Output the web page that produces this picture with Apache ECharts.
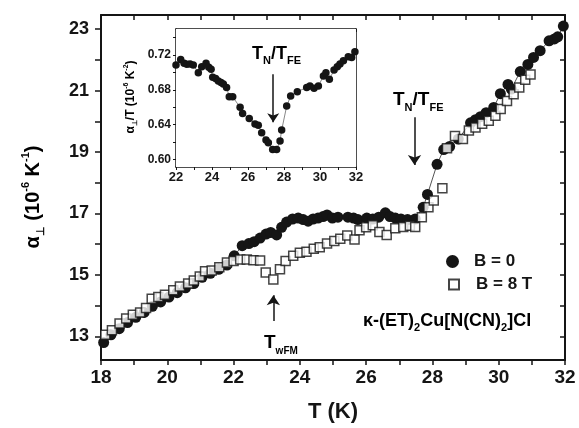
<!DOCTYPE html>
<html>
<head>
<meta charset="utf-8">
<script src="https://cdn.jsdelivr.net/npm/echarts@6/dist/echarts.min.js"></script>
<style>
  html, body {margin: 0; padding: 0; background: #fff;}
  #main {width: 579px; height: 428px;}
</style>
</head>
<body>
<div id="main"></div>
<script>
// main panel, B = 0 (filled circles)
const T_B0 = [18.08, 18.3, 18.55, 18.8, 19.05, 19.3, 19.55, 19.8, 20.05, 20.3, 20.55, 20.8, 21.05, 21.3, 21.55, 21.8,
  22.02, 22.26, 22.46, 22.62, 22.8, 22.98, 23.12, 23.3, 23.45, 23.6, 23.78, 23.95, 24.1, 24.25, 24.4, 24.55, 24.7, 24.82,
  24.98, 25.15, 25.45, 25.62, 25.75, 26.02, 26.2, 26.38, 26.58, 26.72, 26.88, 27.05, 27.25, 27.48, 27.72, 27.85,
  28.14, 28.34, 28.52, 28.78, 29.15, 29.3, 29.45, 29.62, 29.85, 30.05, 30.28, 30.38, 30.65, 30.88, 31.05, 31.25,
  31.52, 31.68, 31.78, 31.95];
const A_B0 = [12.8, 13.05, 13.25, 13.45, 13.62, 13.78, 13.98, 14.12, 14.28, 14.42, 14.58, 14.72, 14.92, 15.05, 15.18, 15.32,
  15.62, 15.95, 16.02, 16.08, 16.2, 16.33, 16.38, 16.3, 16.55, 16.72, 16.82, 16.85, 16.8, 16.75, 16.82, 16.85, 16.9, 16.95,
  16.85, 16.88, 16.88, 16.85, 16.8, 16.85, 16.82, 16.88, 17.02, 16.9, 16.85, 16.82, 16.8, 16.82, 17.2, 17.62,
  18.6, 19.08, 19.18, 19.42, 19.95, 20.05, 20.15, 20.28, 20.45, 20.9, 21.2, 21.05, 21.62, 21.85, 22.08, 22.3,
  22.62, 22.68, 22.75, 23.1];

// main panel, B = 8 T (open squares)
const T_B8 = [18.13, 18.33, 18.56, 18.76, 18.96, 19.18, 19.36, 19.53, 19.73, 19.93, 20.18, 20.38, 20.63, 20.8, 20.98, 21.14,
  21.34, 21.57, 21.8, 22.0, 22.2, 22.4, 22.6, 22.8, 22.97, 23.2, 23.4, 23.57, 23.8, 24.0, 24.2, 24.42, 24.6, 24.82,
  25.04, 25.22, 25.43, 25.65, 25.8, 26.0, 26.2, 26.4, 26.62, 26.88, 27.12, 27.32, 27.48, 27.68, 27.88, 28.04, 28.3,
  28.44, 28.68, 28.92, 29.1, 29.3, 29.5, 29.7, 29.9, 30.06, 30.25, 30.45, 30.62, 30.8, 30.96];
const A_B8 = [13.05, 13.2, 13.42, 13.58, 13.7, 13.78, 13.92, 14.22, 14.28, 14.35, 14.5, 14.62, 14.72, 14.82, 14.95, 15.12,
  15.14, 15.25, 15.4, 15.45, 15.5, 15.5, 15.48, 15.47, 15.08, 14.85, 15.18, 15.45, 15.62, 15.72, 15.75, 15.85, 15.9, 16.02,
  16.1, 16.18, 16.28, 16.15, 16.45, 16.55, 16.62, 16.4, 16.3, 16.52, 16.56, 16.6, 16.56, 16.88, 17.2, 17.42, 17.82,
  19.12, 19.52, 19.42, 19.7, 19.8, 19.92, 20.02, 20.18, 20.4, 20.66, 20.88, 21.1, 21.35, 21.52];

// inset: alpha/T for B = 0
const T_IN = [22.0, 22.26, 22.45, 22.6, 22.78, 22.96, 23.24, 23.43, 23.67, 23.82, 23.95, 24.04, 24.2, 24.35, 24.5, 24.63,
  24.81, 24.96, 25.15, 25.56, 25.7, 26.07, 26.39, 26.57, 26.76, 27.0, 27.13, 27.37, 27.59, 27.78, 27.87, 28.15, 28.37,
  28.74, 29.26, 29.44, 29.67, 29.91, 30.19, 30.33, 30.52, 30.78, 30.96, 31.11, 31.3, 31.57, 31.76, 31.94];
const R_IN = [0.7085, 0.715, 0.7105, 0.7095, 0.7096, 0.7085, 0.6996, 0.7065, 0.7104, 0.706, 0.7035, 0.6943, 0.693, 0.690,
  0.6885, 0.6865, 0.6827, 0.6719, 0.6719, 0.6597, 0.6527, 0.647, 0.6404, 0.6392, 0.6304, 0.622, 0.6189, 0.6112, 0.6112,
  0.6211, 0.6335, 0.6612, 0.6727, 0.6777, 0.6827, 0.6842, 0.6816, 0.6842, 0.6958, 0.6996, 0.692, 0.7027, 0.7065, 0.7096,
  0.7134, 0.718, 0.7173, 0.7238];

// ticks
const MAIN_Y_TICKS = [13, 14, 15, 16, 17, 18, 19, 20, 21, 22, 23];
const MAIN_Y_LABELS = [13, 15, 17, 19, 21, 23];
const INSET_Y_TICKS = [0.60, 0.62, 0.64, 0.66, 0.68, 0.70, 0.72, 0.74];
const INSET_Y_LABELS = [0.60, 0.64, 0.68, 0.72];

// arrow annotations (data coords)
const ARROW_TN = [[27.46, 20.13], [27.46, 18.58]];
const ARROW_TWFM = [[23.2, 13.5], [23.2, 14.34]];
const ARROW_TN_INSET = [[27.4, 0.698], [27.4, 0.6427]];

const FONT = '"Liberation Sans", Arial, sans-serif';
const INK = '#151515';

function zip(xs, ys) { return xs.map((x, i) => [x, ys[i]]); }
function evenOnly(v) { return Math.round(v) % 2 === 0 ? String(Math.round(v)) : ''; }

const mychart = echarts.init(document.getElementById('main'), null, {renderer: 'canvas'});

const lineAx = w => ({lineStyle: {color: INK, width: w}});
const sub = (fs, lh) => ({fontSize: fs, fontWeight: 'bold', fontFamily: FONT, color: INK, lineHeight: lh, verticalAlign: 'bottom'});
const sup = (fs, lh) => ({fontSize: fs, fontWeight: 'bold', fontFamily: FONT, color: INK, lineHeight: lh, verticalAlign: 'top'});
const big = (fs, lh) => ({fontSize: fs, fontWeight: 'bold', fontFamily: FONT, color: INK, lineHeight: lh});

const option = {
  animation: false,
  backgroundColor: '#fff',
  textStyle: {fontFamily: FONT, color: INK},
  grid: [
    {left: 101, right: 14, top: 15, bottom: 66},
    {left: 176, right: 223, top: 29, bottom: 261, show: true, backgroundColor: '#fff', borderWidth: 0, z: 5}
  ],
  xAxis: [
    { // main bottom
      type: 'value', gridIndex: 0, position: 'bottom', min: 18, max: 32, interval: 1,
      axisLine: lineAx(2), splitLine: {show: false},
      axisTick: {inside: false, length: 5, lineStyle: {color: INK, width: 1.5}},
      axisLabel: {formatter: evenOnly, fontSize: 19, fontWeight: 'bold', color: INK, margin: 8},
      name: 'T (K)', nameLocation: 'middle', nameGap: 41,
      nameTextStyle: {fontSize: 22, fontWeight: 'bold', color: INK}
    },
    { // main top mirror
      type: 'value', gridIndex: 0, position: 'top', min: 18, max: 32, interval: 1,
      axisLine: lineAx(2), splitLine: {show: false},
      axisTick: {inside: true, length: 5, lineStyle: {color: INK, width: 1.5}},
      axisLabel: {show: false}
    },
    { // inset bottom
      type: 'value', gridIndex: 1, position: 'bottom', min: 22, max: 32, interval: 1,
      axisLine: lineAx(1.5), splitLine: {show: false},
      axisTick: {inside: false, length: 3, lineStyle: {color: INK, width: 1}},
      axisLabel: {formatter: evenOnly, fontSize: 13, fontWeight: 'bold', color: INK, margin: 4}
    },
    { // inset top mirror
      type: 'value', gridIndex: 1, position: 'top', min: 22, max: 32, interval: 1,
      axisLine: lineAx(1.5), splitLine: {show: false},
      axisTick: {inside: true, length: 3, lineStyle: {color: INK, width: 1}},
      axisLabel: {show: false}
    }
  ],
  yAxis: [
    {
      type: 'value', gridIndex: 0, position: 'left', min: 12.23, max: 23.46,
      axisLine: lineAx(2), splitLine: {show: false},
      axisTick: {inside: false, length: 6, customValues: MAIN_Y_TICKS, lineStyle: {color: INK, width: 1.5}},
      axisLabel: {customValues: MAIN_Y_LABELS, fontSize: 18, fontWeight: 'bold', color: INK, margin: 12}
    },
    {
      type: 'value', gridIndex: 0, position: 'right', min: 12.23, max: 23.46,
      axisLine: lineAx(2), splitLine: {show: false},
      axisTick: {inside: true, length: 5, customValues: MAIN_Y_TICKS, lineStyle: {color: INK, width: 1.5}},
      axisLabel: {show: false}
    },
    {
      type: 'value', gridIndex: 1, position: 'left', min: 0.591, max: 0.75,
      axisLine: lineAx(1.5), splitLine: {show: false},
      axisTick: {inside: false, length: 3, customValues: INSET_Y_TICKS, lineStyle: {color: INK, width: 1}},
      axisLabel: {customValues: INSET_Y_LABELS, formatter: v => v.toFixed(2), fontSize: 12, fontWeight: 'bold', color: INK, margin: 5}
    },
    {
      type: 'value', gridIndex: 1, position: 'right', min: 0.591, max: 0.75,
      axisLine: lineAx(1.5), splitLine: {show: false},
      axisTick: {inside: true, length: 3, customValues: INSET_Y_TICKS, lineStyle: {color: INK, width: 1}},
      axisLabel: {show: false}
    }
  ],
  legend: [
    {
      data: [{name: 'B = 0', icon: 'circle'}], selectedMode: false,
      left: 441, top: 248, itemWidth: 13, itemHeight: 13,
      textStyle: {fontSize: 17, fontWeight: 'bold', color: INK, padding: [0, 0, 0, 10]}
    },
    {
      data: [{name: 'B = 8 T', icon: 'rect'}], selectedMode: false,
      left: 443, top: 271, itemWidth: 10, itemHeight: 10,
      textStyle: {fontSize: 17, fontWeight: 'bold', color: INK, padding: [0, 0, 0, 12]}
    }
  ],
  series: [
    {
      name: 'B = 0', type: 'line', xAxisIndex: 0, yAxisIndex: 0,
      data: zip(T_B0, A_B0), symbol: 'circle', symbolSize: 11,
      itemStyle: {color: INK}, lineStyle: {color: '#555', width: 1}, z: 2,
      markLine: {
        silent: true, symbol: ['none', 'arrow'], symbolSize: 10,
        label: {show: false}, lineStyle: {color: INK, width: 1.5, type: 'solid'},
        data: [
          [{coord: ARROW_TN[0]}, {coord: ARROW_TN[1]}],
          [{coord: ARROW_TWFM[0]}, {coord: ARROW_TWFM[1]}]
        ]
      }
    },
    {
      name: 'B = 8 T', type: 'scatter', xAxisIndex: 0, yAxisIndex: 0,
      data: zip(T_B8, A_B8), symbol: 'rect', symbolSize: 9,
      itemStyle: {color: '#fff', borderColor: INK, borderWidth: 1.5}, z: 3
    },
    {
      name: 'inset', type: 'line', xAxisIndex: 2, yAxisIndex: 2,
      data: zip(T_IN, R_IN), symbol: 'circle', symbolSize: 7.5,
      itemStyle: {color: INK}, lineStyle: {color: '#888', width: 1}, z: 6,
      markLine: {
        silent: true, symbol: ['none', 'arrow'], symbolSize: 9,
        label: {show: false}, lineStyle: {color: INK, width: 1.5, type: 'solid'},
        data: [[{coord: ARROW_TN_INSET[0]}, {coord: ARROW_TN_INSET[1]}]]
      }
    }
  ],
  graphic: [
    { // main y title
      type: 'text', x: 33, y: 197, rotation: Math.PI / 2, z: 10,
      style: {
        text: '{a|α}{b|⊥}{a| (10}{c|-6}{a| K}{c|-1}{a|)}',
        align: 'center', verticalAlign: 'middle',
        rich: {a: big(20, 26), b: sub(11, 12), c: sup(11, 12)}
      }
    },
    { // inset y title
      type: 'text', x: 131, y: 97, rotation: Math.PI / 2, z: 10,
      style: {
        text: '{a|α}{b|⊥}{a|/T (10}{c|-6}{a| K}{c|-2}{a|)}',
        align: 'center', verticalAlign: 'middle',
        rich: {a: big(12, 16), b: sub(7, 8), c: sup(7, 8)}
      }
    },
    { // main T_N/T_FE
      type: 'text', x: 393, y: 100, z: 10,
      style: {
        text: '{a|T}{b|N}{a|/T}{b|FE}', align: 'left', verticalAlign: 'middle',
        rich: {a: big(19, 26), b: sub(11, 12)}
      }
    },
    { // inset T_N/T_FE
      type: 'text', x: 252, y: 54, z: 10,
      style: {
        text: '{a|T}{b|N}{a|/T}{b|FE}', align: 'left', verticalAlign: 'middle',
        rich: {a: big(18, 25), b: sub(11, 12)}
      }
    },
    { // T_wFM
      type: 'text', x: 264, y: 343, z: 10,
      style: {
        text: '{a|T}{b|wFM}', align: 'left', verticalAlign: 'middle',
        rich: {a: big(19, 26), b: sub(10, 11)}
      }
    },
    { // compound name
      type: 'text', x: 363, y: 321, z: 10,
      style: {
        text: '{a|κ-(ET)}{b|2}{a|Cu[N(CN)}{b|2}{a|]Cl}', align: 'left', verticalAlign: 'middle',
        rich: {a: big(18, 24), b: sub(11, 12)}
      }
    }
  ]
};

mychart.setOption(option);
</script>
</body>
</html>
